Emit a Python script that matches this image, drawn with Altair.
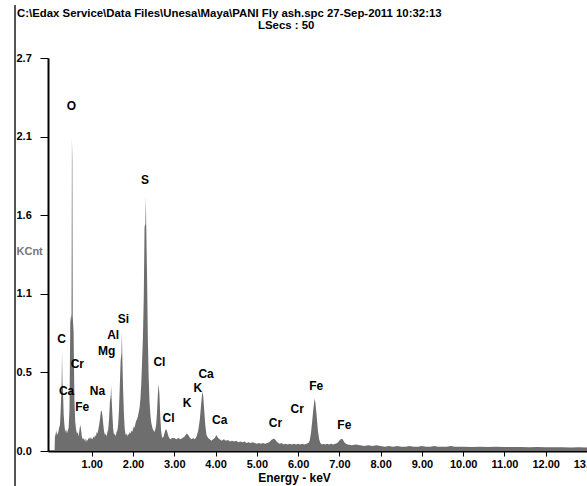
import altair as alt
import pandas as pd

# ---- spectrum: (energy keV, KCnt) ----
spectrum = [
    (0.10, 0.00), (0.11, 0.13), (0.13, 0.10), (0.15, 0.14), (0.17, 0.11), (0.19, 0.13),
    (0.21, 0.16), (0.23, 0.18), (0.25, 0.30), (0.27, 0.46), (0.28, 0.68), (0.29, 0.47),
    (0.30, 0.44), (0.32, 0.25), (0.34, 0.17), (0.36, 0.13), (0.38, 0.15), (0.40, 0.12),
    (0.42, 0.14), (0.44, 0.16), (0.46, 0.28), (0.48, 0.88), (0.50, 0.94), (0.51, 0.90),
    (0.52, 2.15), (0.53, 2.00), (0.54, 0.92), (0.56, 0.82), (0.58, 0.35), (0.60, 0.20),
    (0.62, 0.15), (0.64, 0.12), (0.66, 0.13), (0.68, 0.10), (0.70, 0.14), (0.72, 0.18),
    (0.74, 0.15), (0.76, 0.10), (0.78, 0.08), (0.80, 0.09), (0.82, 0.07), (0.84, 0.09),
    (0.86, 0.06), (0.88, 0.08), (0.90, 0.07), (0.92, 0.09), (0.94, 0.08), (0.96, 0.10),
    (0.98, 0.08), (1.00, 0.09), (1.02, 0.08), (1.04, 0.10), (1.06, 0.09), (1.08, 0.11),
    (1.10, 0.10), (1.12, 0.13), (1.14, 0.12), (1.16, 0.15), (1.18, 0.18), (1.20, 0.22),
    (1.22, 0.27), (1.24, 0.28), (1.26, 0.24), (1.28, 0.18), (1.30, 0.13), (1.32, 0.11),
    (1.34, 0.12), (1.36, 0.10), (1.38, 0.13), (1.40, 0.15), (1.42, 0.22), (1.44, 0.34),
    (1.46, 0.38), (1.47, 0.45), (1.48, 0.37), (1.50, 0.25), (1.52, 0.15), (1.54, 0.11),
    (1.56, 0.12), (1.58, 0.10), (1.60, 0.13), (1.62, 0.14), (1.64, 0.18), (1.66, 0.28),
    (1.68, 0.45), (1.70, 0.62), (1.72, 0.67), (1.73, 0.82), (1.74, 0.66), (1.76, 0.42),
    (1.78, 0.25), (1.80, 0.15), (1.82, 0.11), (1.84, 0.12), (1.86, 0.10), (1.88, 0.12),
    (1.90, 0.11), (1.92, 0.13), (1.94, 0.12), (1.96, 0.14), (1.98, 0.13), (2.00, 0.15),
    (2.02, 0.17), (2.04, 0.16), (2.06, 0.19), (2.08, 0.21), (2.10, 0.22), (2.12, 0.24),
    (2.14, 0.27), (2.16, 0.30), (2.18, 0.36), (2.20, 0.46), (2.22, 0.62), (2.24, 0.78),
    (2.26, 1.05), (2.28, 1.54), (2.30, 1.56), (2.31, 1.75), (2.32, 1.55), (2.34, 1.20),
    (2.36, 0.76), (2.38, 0.50), (2.40, 0.34), (2.42, 0.25), (2.44, 0.20), (2.46, 0.17),
    (2.48, 0.15), (2.50, 0.14), (2.52, 0.13), (2.54, 0.15), (2.56, 0.18), (2.58, 0.26),
    (2.60, 0.38), (2.62, 0.46), (2.64, 0.39), (2.66, 0.24), (2.68, 0.14), (2.70, 0.10),
    (2.72, 0.09), (2.74, 0.10), (2.76, 0.12), (2.78, 0.14), (2.80, 0.15), (2.82, 0.14),
    (2.84, 0.12), (2.86, 0.10), (2.88, 0.09), (2.90, 0.08), (2.95, 0.09), (3.00, 0.09),
    (3.05, 0.08), (3.10, 0.09), (3.15, 0.08), (3.20, 0.09), (3.25, 0.10), (3.30, 0.12),
    (3.34, 0.11), (3.38, 0.09), (3.42, 0.08), (3.46, 0.09), (3.50, 0.08), (3.54, 0.10),
    (3.58, 0.14), (3.62, 0.22), (3.65, 0.32), (3.68, 0.41), (3.70, 0.38), (3.72, 0.30),
    (3.75, 0.18), (3.78, 0.11), (3.82, 0.09), (3.86, 0.08), (3.90, 0.07), (3.94, 0.08),
    (3.98, 0.09), (4.02, 0.11), (4.06, 0.09), (4.10, 0.08), (4.15, 0.07), (4.20, 0.08),
    (4.25, 0.07), (4.30, 0.075), (4.35, 0.065), (4.40, 0.07), (4.45, 0.065), (4.50, 0.07),
    (4.55, 0.06), (4.60, 0.065), (4.65, 0.06), (4.70, 0.065), (4.75, 0.055), (4.80, 0.06),
    (4.85, 0.055), (4.90, 0.06), (4.95, 0.055), (5.00, 0.05), (5.05, 0.055), (5.10, 0.05),
    (5.15, 0.055), (5.20, 0.05), (5.25, 0.055), (5.30, 0.06), (5.35, 0.075), (5.40, 0.085),
    (5.44, 0.08), (5.48, 0.065), (5.52, 0.055), (5.56, 0.05), (5.60, 0.055), (5.65, 0.045),
    (5.70, 0.05), (5.75, 0.045), (5.80, 0.05), (5.85, 0.045), (5.90, 0.05), (5.95, 0.045),
    (6.00, 0.05), (6.05, 0.045), (6.10, 0.05), (6.15, 0.045), (6.20, 0.05), (6.25, 0.055),
    (6.28, 0.07), (6.31, 0.12), (6.34, 0.20), (6.37, 0.29), (6.40, 0.36), (6.42, 0.33),
    (6.45, 0.24), (6.48, 0.14), (6.51, 0.08), (6.54, 0.055), (6.58, 0.045), (6.62, 0.05),
    (6.66, 0.045), (6.70, 0.05), (6.75, 0.045), (6.80, 0.05), (6.85, 0.045), (6.90, 0.05),
    (6.95, 0.055), (7.00, 0.07), (7.04, 0.085), (7.08, 0.08), (7.12, 0.06), (7.16, 0.05),
    (7.20, 0.045), (7.30, 0.04), (7.40, 0.045), (7.50, 0.04), (7.60, 0.035), (7.70, 0.04),
    (7.80, 0.035), (7.90, 0.04), (8.00, 0.035), (8.10, 0.03), (8.20, 0.035), (8.30, 0.03),
    (8.40, 0.035), (8.50, 0.03), (8.60, 0.03), (8.70, 0.035), (8.80, 0.03), (8.90, 0.03),
    (9.00, 0.035), (9.10, 0.03), (9.20, 0.03), (9.30, 0.035), (9.40, 0.03), (9.50, 0.03),
    (9.60, 0.03), (9.70, 0.035), (9.80, 0.03), (9.90, 0.03), (10.00, 0.03), (10.20, 0.028),
    (10.40, 0.03), (10.60, 0.028), (10.80, 0.03), (11.00, 0.028), (11.20, 0.027),
    (11.40, 0.028), (11.60, 0.026), (11.80, 0.027), (12.00, 0.025), (12.20, 0.026),
    (12.40, 0.025), (12.60, 0.024), (12.80, 0.025), (13.00, 0.024), (13.05, 0.024),
]

# ---- element labels (text, energy keV, KCnt) ----
labels = [
    ("O", 0.51, 2.37), ("S", 2.29, 1.86), ("Si", 1.77, 0.91), ("Al", 1.52, 0.80),
    ("Mg", 1.36, 0.69), ("C", 0.27, 0.77), ("Cr", 0.65, 0.60), ("Ca", 0.39, 0.41),
    ("Fe", 0.77, 0.30), ("Na", 1.14, 0.41), ("Cl", 2.64, 0.61), ("Cl", 2.86, 0.23),
    ("K", 3.31, 0.33), ("K", 3.57, 0.43), ("Ca", 3.77, 0.53), ("Ca", 4.10, 0.21),
    ("Cr", 5.45, 0.19), ("Cr", 5.98, 0.29), ("Fe", 6.44, 0.45), ("Fe", 7.12, 0.18),
]

x_ticks = [1, 2, 3, 4, 5, 6, 7, 8, 9, 10, 11, 12, 13]
y_ticks = [0.0, 0.54, 1.08, 1.62, 2.16, 2.7]
y_tick_labels = ["0.0", "0.5", "1.1", "1.6", "2.1", "2.7"]

header_1 = "C:\\Edax Service\\Data Files\\Unesa\\Maya\\PANI Fly ash.spc  27-Sep-2011 10:32:13"
header_2 = "LSecs : 50"

spec_df = pd.DataFrame(spectrum, columns=["energy", "kcnt"])
lab_df = pd.DataFrame(labels, columns=["el", "energy", "kcnt"])

y_expr = " : ".join(
    f"abs(datum.value - {v}) < 0.001 ? '{t}'" for v, t in zip(y_ticks, y_tick_labels)
) + " : ''"

FONT = "Liberation Sans"
W, H = 539, 393
XDOM = [-0.06, 13.0]

xscale = alt.Scale(domain=XDOM, nice=False, zero=False)
yscale = alt.Scale(domain=[0, 2.7], nice=False)

area = alt.Chart(spec_df).mark_area(color="#6e6e6e", interpolate="linear", clip=True).encode(
    x=alt.X("energy:Q", scale=xscale,
            axis=alt.Axis(values=x_ticks, format=".2f", title="Energy - keV",
                          labelFont=FONT, labelFontSize=11, labelFontWeight="bold",
                          labelColor="black", labelPadding=2, tickSize=5, tickColor="black",
                          domainColor="black", domainWidth=2, grid=False,
                          labelFlush=False, labelOverlap=False,
                          titleFont=FONT, titleFontSize=12, titleFontWeight="bold",
                          titleColor="black", titleX=246, titleY=26,
                          titleBaseline="middle")),
    y=alt.Y("kcnt:Q", scale=yscale,
            axis=alt.Axis(values=y_ticks, labelExpr=y_expr, title="KCnt",
                          labelFont=FONT, labelFontSize=11, labelFontWeight="bold",
                          labelColor="black", labelAlign="left", labelPadding=24,
                          labelBaseline="middle",
                          tickSize=8, tickColor="black", domainColor="black",
                          domainWidth=2, grid=False, labelFlush=False, labelOverlap=False,
                          titleFont=FONT, titleFontSize=11, titleFontWeight="bold",
                          titleColor="#777777", titleAngle=0, titleAlign="left",
                          titleBaseline="middle", titleX=-32, titleY=193)),
)

text = alt.Chart(lab_df).mark_text(
    font=FONT, fontSize=12, fontWeight="bold", color="black", baseline="middle", align="center"
).encode(x=alt.X("energy:Q", scale=xscale), y=alt.Y("kcnt:Q", scale=yscale), text="el:N")

border = alt.Chart(pd.DataFrame({"k": [0]})).mark_rule(color="#555555", strokeWidth=2).encode(
    x=alt.value(-33), y=alt.value(-53), y2=alt.value(H + 40)
)

head1 = alt.Chart(pd.DataFrame({"t": [header_1]})).mark_text(
    font=FONT, fontSize=11.4, fontWeight="bold", color="black", align="left", baseline="alphabetic"
).encode(x=alt.value(-31), y=alt.value(-41), text="t:N")

head2 = alt.Chart(pd.DataFrame({"t": [header_2]})).mark_text(
    font=FONT, fontSize=11.4, fontWeight="bold", color="black", align="left", baseline="alphabetic"
).encode(x=alt.value(210), y=alt.value(-29), text="t:N")

chart = alt.layer(area, text, border, head1, head2).properties(
    width=W, height=H,
    autosize=alt.AutoSizeParams(type="none"),
    padding={"left": 48, "top": 58, "right": 0, "bottom": 35},
    background="white",
).configure_view(stroke=None)

chart.save("out.html", embed_options={"renderer": "svg", "actions": False})
